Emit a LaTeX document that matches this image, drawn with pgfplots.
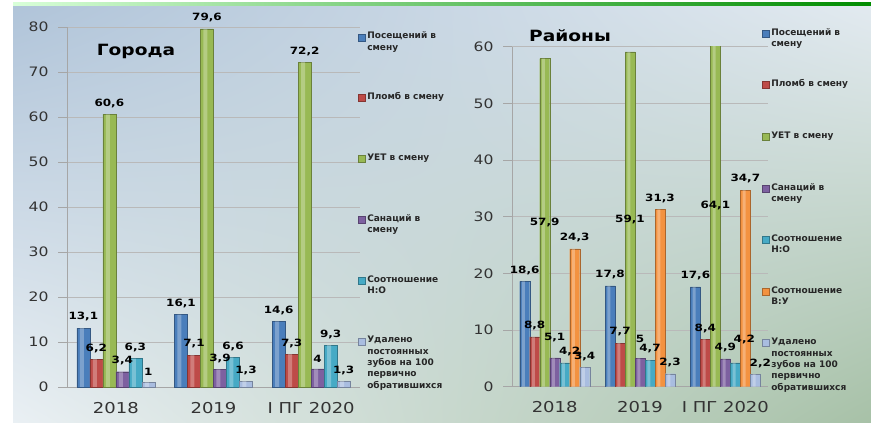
\documentclass[border=0pt]{standalone}
\usepackage{fontspec}
\setmainfont{DejaVu Sans}[FakeStretch=1.2]
\newfontfamily\legfont{DejaVu Sans}
\usepackage{pgfplots}
\pgfplotsset{compat=1.18}
\usepackage{pgfplotstable}
\usetikzlibrary{shadings}

\definecolor{cBlue}{HTML}{4A7EBB}
\definecolor{cRed}{HTML}{BE4B48}
\definecolor{cGreen}{HTML}{98B954}
\definecolor{cPurple}{HTML}{7D60A0}
\definecolor{cTeal}{HTML}{46AAC5}
\definecolor{cOrange}{HTML}{F39240}
\definecolor{cLight}{HTML}{A9BDE0}
\definecolor{bgUL}{HTML}{B0C4D9}
\definecolor{bgUR}{HTML}{E2EAF0}
\definecolor{bgLL}{HTML}{EAF0F4}
\definecolor{bgLR}{HTML}{A7C1A7}

\pgfplotstableread{
x pos plomb uet san no udal
0 13.1 6.2 60.6 3.4 6.3 1
1 16.1 7.1 79.6 3.9 6.6 1.3
2 14.6 7.3 72.2 4 9.3 1.3
}\goroda

% dys, dxno, dyno, dxud: label offsets (pt) only
\pgfplotstableread{
x pos plomb uet san no vu udal dys dxno dyno dxud
0 18.6 8.8 57.9 5.1 4.2 24.3 3.4 9 5 0 0
1 17.8 7.7 59.1 5 4.7 31.3 2.3 9 0 0 0
2 17.6 8.4 64.1 4.9 4.2 34.7 2.2 0 9 12 5
}\rayony

\newcommand{\LE}[1]{\smash{\parbox[t]{100pt}{\raggedright #1}}}

\pgfplotsset{
  /pgf/number format/assume math mode=true,
  /pgf/number format/use comma,
  cyl/.style={draw=#1!70!black, line width=0.3pt, fill=#1,
    legend image code/.code={\path[##1] (0pt,-1pt) rectangle (7pt,6pt);}},
  hl/.style={draw=none, fill=white, fill opacity=0.28, forget plot},
  lab/.style={nodes near coords, point meta=y,
    every node near coord/.append style={font=\bfseries\fontsize{10}{10}\selectfont, text=black, inner sep=2pt, yshift=4.5pt}},
  base/.style={
    scale only axis,
    ybar,
    xmin=-0.5, xmax=2.5, ymin=0,
    xtick={0,1,2}, xticklabels={2018,2019,I ПГ 2020},
    minor xtick={-0.5,0.5,1.5,2.5},
    xtick style={draw=none},
    minor tick length=7pt,
    major tick length=9pt,
    tick align=outside,
    axis x line*=bottom, axis y line*=left,
    axis line style={-, gray!70, line width=0.6pt},
    tick style={gray!70, line width=0.6pt},
    ymajorgrids, grid style={gray!55, line width=0.5pt},
    yticklabel style={font=\fontsize{13}{13}\selectfont, text=black!80, xshift=-6pt},
    xticklabel style={font=\fontsize{15}{15}\selectfont, text=black!80, yshift=-2.5pt},
    legend cell align=left,
    legend style={draw=none, fill=none, inner sep=0pt, outer sep=0pt, anchor=north west,
      font=\legfont\bfseries\fontsize{9}{11.3}\selectfont, text=black!85,
      column sep=1pt, nodes={inner sep=1pt}},
  }
}

\begin{document}
\begin{tikzpicture}[x=1pt,y=1pt]
\path[use as bounding box] (0,0) rectangle (871,423);
\fill[white] (0,0) rectangle (871,423);
\shade[upper left=bgUL, upper right=bgUR, lower left=bgLL, lower right=bgLR] (13,0) rectangle (871,417);
\shade[left color=green!15!white, right color=green!55!black] (13,417) rectangle (871,420);

% ---------- Города ----------
\begin{scope}[shift={(67pt,36pt)}]
\begin{axis}[base, at={(0pt,0pt)}, anchor=south west, width=293pt, height=360pt,
  ymax=80, ytick={0,10,...,80}, bar width=13pt, clip=false,
  legend style={at={(axis description cs:1,1)}, xshift=-2pt, yshift=-6.5pt, row sep=52.9pt}]
\addplot[cyl=cBlue, lab, bar shift=-32.5pt] table[x=x,y=pos] {\goroda};
\addlegendentry{\LE{Посещений в\\смену}}
\addplot[cyl=cRed, lab, bar shift=-19.5pt] table[x=x,y=plomb] {\goroda};
\addlegendentry{\LE{Пломб в смену}}
\addplot[cyl=cGreen, lab, bar shift=-6.5pt] table[x=x,y=uet] {\goroda};
\addlegendentry{\LE{УЕТ в смену}}
\addplot[cyl=cPurple, lab, bar shift=6.5pt] table[x=x,y=san] {\goroda};
\addlegendentry{\LE{Санаций  в\\смену}}
\addplot[cyl=cTeal, lab, bar shift=19.5pt] table[x=x,y=no] {\goroda};
\addlegendentry{\LE{Соотношение\\Н:О}}
\addplot[cyl=cLight, lab, bar shift=32.5pt] table[x=x,y=udal] {\goroda};
\addlegendentry{\LE{Удалено\\постоянных\\зубов на 100\\первично\\обратившихся}}
% highlights (cylinder look)
\addplot[hl, bar width=4pt, bar shift=-34pt] table[x=x,y=pos] {\goroda};
\addplot[hl, bar width=4pt, bar shift=-21pt] table[x=x,y=plomb] {\goroda};
\addplot[hl, bar width=4pt, bar shift=-8pt] table[x=x,y=uet] {\goroda};
\addplot[hl, bar width=4pt, bar shift=5pt] table[x=x,y=san] {\goroda};
\addplot[hl, bar width=4pt, bar shift=18pt] table[x=x,y=no] {\goroda};
\addplot[hl, bar width=4pt, bar shift=31pt] table[x=x,y=udal] {\goroda};
\end{axis}
\end{scope}

% ---------- Районы ----------
\begin{scope}[shift={(512pt,36.3pt)}]
\begin{axis}[base, at={(0pt,0pt)}, anchor=south west, width=256pt, height=340pt,
  ymax=60, ytick={0,10,...,60}, bar width=10pt,
  legend style={at={(axis description cs:1,1)}, xshift=-6pt, yshift=16.8pt, row sep=43.7pt}]
\addplot[cyl=cBlue, lab, bar shift=-30pt] table[x=x,y=pos] {\rayony};
\addlegendentry{\LE{Посещений в\\смену}}
\addplot[cyl=cRed, lab, bar shift=-20pt] table[x=x,y=plomb] {\rayony};
\addlegendentry{\LE{Пломб в смену}}
\addplot[cyl=cGreen, bar shift=-10pt] table[x=x,y=uet] {\rayony};
\addlegendentry{\LE{УЕТ в смену}}
\addplot[cyl=cPurple, lab, bar shift=0pt,
  visualization depends on={\thisrow{dys} \as \dys},
  every node near coord/.append style={yshift=\dys pt}] table[x=x,y=san] {\rayony};
\addlegendentry{\LE{Санаций  в\\смену}}
\addplot[cyl=cTeal, lab, bar shift=10pt,
  visualization depends on={\thisrow{dxno} \as \dxno},
  visualization depends on={\thisrow{dyno} \as \dyno},
  every node near coord/.append style={xshift=\dxno pt, yshift=\dyno pt}] table[x=x,y=no] {\rayony};
\addlegendentry{\LE{Соотношение\\Н:О}}
\addplot[cyl=cOrange, lab, bar shift=20pt] table[x=x,y=vu] {\rayony};
\addlegendentry{\LE{Соотношение\\В:У}}
\addplot[cyl=cLight, lab, bar shift=30pt,
  visualization depends on={\thisrow{dxud} \as \dxud},
  every node near coord/.append style={xshift=\dxud pt}] table[x=x,y=udal] {\rayony};
\addlegendentry{\LE{Удалено\\постоянных\\зубов на 100\\первично\\обратившихся}}
% highlights (cylinder look)
\addplot[hl, bar width=3pt, bar shift=-31.2pt] table[x=x,y=pos] {\rayony};
\addplot[hl, bar width=3pt, bar shift=-21.2pt] table[x=x,y=plomb] {\rayony};
\addplot[hl, bar width=3pt, bar shift=-11.2pt] table[x=x,y=uet] {\rayony};
\addplot[hl, bar width=3pt, bar shift=-1.2pt] table[x=x,y=san] {\rayony};
\addplot[hl, bar width=3pt, bar shift=8.8pt] table[x=x,y=no] {\rayony};
\addplot[hl, bar width=3pt, bar shift=18.8pt] table[x=x,y=vu] {\rayony};
\addplot[hl, bar width=3pt, bar shift=28.8pt] table[x=x,y=udal] {\rayony};
% labels of the УЕТ bars, set at mid-height as in the original
\addplot[draw=none, fill=none, forget plot, bar shift=-10pt, nodes near coords, point meta=explicit,
  every node near coord/.append style={anchor=center, font=\bfseries\fontsize{10}{10}\selectfont, text=black}]
  table[x=x, y expr=\thisrow{uet}/2, meta=uet] {\rayony};
\end{axis}
\end{scope}

\node[font=\bfseries\fontsize{15.5}{16}\selectfont] at (136,372) {Города};
\node[font=\bfseries\fontsize{15.5}{16}\selectfont] at (570,387) {Районы};
\end{tikzpicture}
\end{document}
